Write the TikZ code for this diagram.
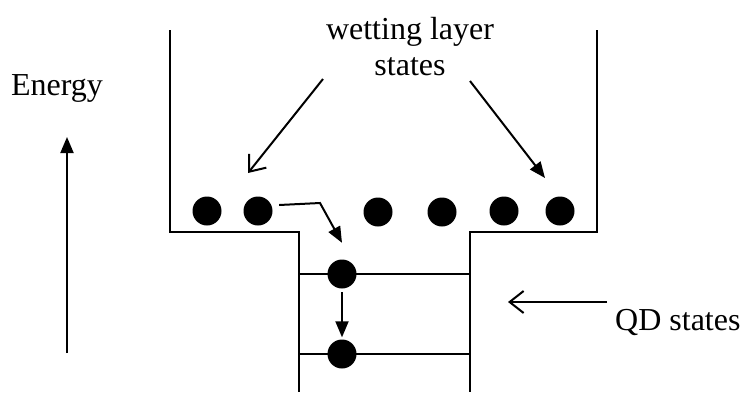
\documentclass[tikz,border=0pt]{standalone}
\usepackage{fontspec}
\setmainfont{Liberation Serif}
\usetikzlibrary{arrows.meta}
\begin{document}
\begin{tikzpicture}[x=1pt,y=-1pt,
  wall/.style={line width=2.1pt},
  level/.style={line width=1.9pt},
  dot/.style={circle,fill=black,inner sep=0pt,minimum size=29pt},
  lbl/.style={font=\fontsize{32}{36}\selectfont,inner sep=0pt,align=center},
  solidtip/.style={-{Triangle[length=16pt,width=13pt]},line width=2pt},
  opentip/.style={-{Straight Barb[length=14pt,width=22pt]},line width=2pt}]
\useasboundingbox (0,0) rectangle (753,392);

% potential profile: wetting layer well with the dot well below
\draw[wall] (170,30) -- (170,232) -- (299,232) -- (299,392);
\draw[wall] (597,30) -- (597,232) -- (470,232) -- (470,392);

% confined dot levels
\draw[level] (299,274) -- (470,274);
\draw[level] (299,354) -- (470,354);

% carriers in the wetting layer
\node[dot] (wl1) at (207,211) {};
\node[dot] (wl2) at (258,211) {};
\node[dot] (wl3) at (378,212) {};
\node[dot] (wl4) at (442,212) {};
\node[dot] (wl5) at (504,211) {};
\node[dot] (wl6) at (560,211) {};

% carriers in the dot levels
\node[dot] (qd1) at (342,274) {};
\node[dot] (qd2) at (342,354) {};

% labels
\node[lbl] (energy) at (57,88) {Energy};
\node[lbl] (wlstates) at (410,47) {wetting layer\\states};
\node[lbl,anchor=west] (qdstates) at (615,322) {QD states};

% energy axis
\coordinate (ebot) at (67,353);
\coordinate (etop) at (67,137);
\draw[solidtip] (ebot) -- (etop);

% pointers from the wetting layer label
\coordinate (wlA) at (323,79);
\coordinate (wlB) at (248,173);
\coordinate (wlC) at (470,81);
\coordinate (wlD) at (545,178);
\draw[opentip] (wlA) -- (wlB);
\draw[solidtip] (wlC) -- (wlD);

% pointer to the dot levels
\coordinate (qdA) at (607,302);
\coordinate (qdB) at (508,302);
\draw[opentip] (qdA) -- (qdB);

% capture and relaxation
\coordinate (bend) at (320,203);
\draw[solidtip] ([xshift=6.5pt,yshift=6pt]wl2.east) -- (bend) -- ([yshift=16.5pt]qd1.north);
\draw[solidtip] ([yshift=-3.5pt]qd1.south) -- ([yshift=2pt]qd2.north);
\end{tikzpicture}
\end{document}
